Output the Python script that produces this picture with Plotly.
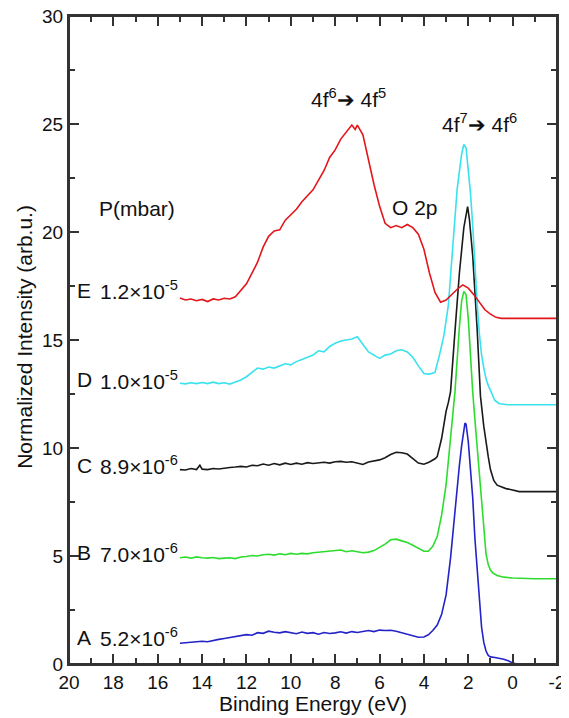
import plotly.graph_objects as go

# ---------------- data ----------------
flat_x = [15.0, 14.75, 14.5, 14.25, 14.0, 13.75, 13.5, 13.25, 13.0, 12.75, 12.5, 12.25,
          12.0, 11.75, 11.5, 11.25, 11.0, 10.75, 10.5, 10.25, 10.0, 9.75, 9.5, 9.25,
          9.0, 8.75, 8.5, 8.25, 8.0, 7.75, 7.5, 7.25, 7.0, 6.75, 6.5, 6.25, 6.0, 5.75,
          5.5, 5.25, 5.0, 4.75, 4.5]

# A (blue) 5.2e-6 mbar
a_x = flat_x + [4.25, 4.0, 3.8, 3.6, 3.4, 3.2, 3.0, 2.8, 2.6, 2.4, 2.3, 2.2, 2.15, 2.1, 2.0,
                1.9, 1.8, 1.7, 1.6, 1.5, 1.4, 1.3, 1.2, 1.1, 1.0, 0.8, 0.6, 0.4, 0.2, 0.0,
                -0.2, -0.5, -1.0, -1.5, -2.0]
a_y = [0.96, 0.98, 1.00, 1.02, 1.05, 1.03, 1.10, 1.14, 1.18, 1.22, 1.28, 1.30,
       1.36, 1.33, 1.45, 1.42, 1.52, 1.47, 1.44, 1.50, 1.46, 1.40, 1.48, 1.42,
       1.45, 1.38, 1.46, 1.41, 1.44, 1.49, 1.43, 1.50, 1.46, 1.52, 1.55, 1.50, 1.57, 1.55,
       1.56, 1.52, 1.45, 1.35, 1.28,
       1.24, 1.25, 1.35, 1.55, 1.80, 2.3, 3.2, 4.9, 7.2, 9.2, 10.1, 10.8, 11.15, 11.1, 10.3,
       9.0, 7.7, 5.8, 4.3, 2.9, 1.7, 1.0, 0.6, 0.4, 0.33, 0.30, 0.27, 0.22, 0.15, 0.05,
       0.0, 0.0, 0.0, 0.0, 0.0]

# B (green) 7.0e-6 mbar
b_x = flat_x + [4.25, 4.0, 3.8, 3.6, 3.4, 3.2, 3.0, 2.8, 2.6, 2.4, 2.3, 2.2, 2.1, 2.0,
                1.9, 1.8, 1.7, 1.6, 1.5, 1.4, 1.3, 1.2, 1.1, 1.0, 0.9, 0.7, 0.4, 0.0,
                -1.0, -2.0]
b_y = [4.92, 4.95, 4.90, 4.96, 4.92, 4.90, 4.93, 4.88, 4.90, 4.92, 4.88, 4.95,
       4.98, 5.02, 5.00, 5.06, 5.08, 5.04, 5.10, 5.06, 5.12, 5.08, 5.12, 5.10,
       5.15, 5.18, 5.20, 5.22, 5.25, 5.28, 5.20, 5.24, 5.20, 5.15, 5.18, 5.25, 5.40, 5.55,
       5.75, 5.78, 5.70, 5.62, 5.50,
       5.35, 5.22, 5.22, 5.45, 5.9, 6.9, 8.3, 10.5, 12.6, 15.6, 16.8, 17.25, 17.1, 16.0,
       14.2, 12.6, 11.3, 10.1, 8.9, 7.6, 6.3, 5.1, 4.6, 4.35, 4.22, 4.10, 4.02, 3.98,
       3.95, 3.95]

# C (black) 8.9e-6 mbar
c_x = [15.0, 14.75, 14.5, 14.25, 14.1, 14.0, 13.75, 13.5, 13.25, 13.0, 12.75, 12.5, 12.25,
       12.0, 11.75, 11.5, 11.25, 11.0, 10.75, 10.5, 10.25, 10.0, 9.75, 9.5, 9.25,
       9.0, 8.75, 8.5, 8.25, 8.0, 7.75, 7.5, 7.25, 7.0, 6.75, 6.5, 6.25, 6.0, 5.75,
       5.5, 5.25, 5.0, 4.75, 4.5, 4.25, 4.0, 3.75, 3.5, 3.4, 3.2, 3.0, 2.9, 2.8, 2.6,
       2.4, 2.2, 2.1, 2.03, 1.95, 1.8, 1.6, 1.45, 1.3, 1.2, 1.1, 1.0, 0.85, 0.7, 0.5,
       0.3, 0.1, -0.3, -1.0, -2.0]
c_y = [9.00, 8.98, 9.05, 9.00, 9.20, 9.02, 9.00, 9.05, 9.03, 9.08, 9.10, 9.12, 9.15,
       9.12, 9.20, 9.18, 9.26, 9.20, 9.28, 9.22, 9.30, 9.24, 9.30, 9.25, 9.32,
       9.28, 9.30, 9.34, 9.30, 9.36, 9.38, 9.34, 9.36, 9.30, 9.24, 9.35, 9.40, 9.45, 9.55,
       9.70, 9.80, 9.78, 9.72, 9.50, 9.30, 9.25, 9.35, 9.50, 9.60, 10.45, 11.7, 12.1, 12.6, 15.4,
       18.1, 20.2, 20.9, 21.17, 20.6, 18.9, 15.5, 12.4, 11.0, 10.2, 9.6, 9.0, 8.5, 8.28, 8.2,
       8.12, 8.08, 7.98, 7.98, 7.98]

# D (cyan) 1.0e-5 mbar
d_x = flat_x + [4.25, 4.0, 3.75, 3.5, 3.3, 3.1, 2.9, 2.7, 2.5, 2.3, 2.2, 2.1, 2.0, 1.9,
                1.8, 1.7, 1.6, 1.5, 1.4, 1.3, 1.2, 1.1, 1.0, 0.8, 0.6, 0.2, -1.0, -2.0]
d_y = [13.00, 12.97, 13.02, 12.98, 13.03, 12.98, 13.05, 12.98, 13.02, 12.96, 13.05, 13.15,
       13.30, 13.50, 13.70, 13.65, 13.75, 13.70, 13.80, 13.90, 13.85, 14.00, 14.10, 14.20,
       14.30, 14.50, 14.45, 14.70, 14.85, 14.95, 15.00, 15.05, 15.15, 14.80, 14.45, 14.30,
       14.15, 14.30, 14.35, 14.50, 14.55, 14.45, 14.20,
       13.80, 13.45, 13.42, 13.50, 14.3, 15.2, 16.6, 19.5, 22.0, 23.6, 24.05, 23.9, 23.0, 21.8,
       20.3, 18.4, 16.7, 15.3, 14.3, 13.7, 13.2, 12.9, 12.65, 12.2, 12.05, 12.0, 12.0, 12.0]

# E (red) 1.2e-5 mbar
e_x = [15.0, 14.75, 14.5, 14.25, 14.0, 13.75, 13.5, 13.25, 13.0, 12.75, 12.5, 12.25,
       12.0, 11.75, 11.5, 11.25, 11.0, 10.75, 10.5, 10.25, 10.0, 9.75, 9.5, 9.25,
       9.0, 8.75, 8.5, 8.25, 8.0, 7.75, 7.5, 7.25, 7.1, 7.0, 6.75, 6.5, 6.25, 6.0, 5.75,
       5.5, 5.25, 5.0, 4.75, 4.5, 4.25, 4.0, 3.75, 3.5, 3.25, 3.0, 2.75, 2.5, 2.25, 2.0,
       1.75, 1.5, 1.25, 1.0, 0.75, 0.5, 0.0, -1.0, -2.0]
e_y = [16.95, 16.85, 16.90, 16.82, 16.88, 16.78, 16.90, 16.85, 16.93, 16.90, 17.00, 17.30,
       17.60, 18.10, 18.60, 19.30, 19.80, 20.05, 20.10, 20.55, 20.80, 21.05, 21.40, 21.70,
       21.95, 22.40, 22.85, 23.45, 23.80, 24.30, 24.60, 24.95, 24.75, 24.95, 24.50, 23.30,
       22.20, 21.20, 20.40, 20.20, 20.30, 20.20, 20.35, 20.20, 19.90, 19.20, 18.10, 17.20,
       16.75, 16.85, 17.10, 17.35, 17.55, 17.40, 17.10, 16.75, 16.40, 16.20, 16.05, 16.00,
       16.00, 16.00, 16.00]

series_names = ["A", "B", "C", "D", "E"]
pressures = ["5.2×10<sup>-6</sup>", "7.0×10<sup>-6</sup>", "8.9×10<sup>-6</sup>",
             "1.0×10<sup>-5</sup>", "1.2×10<sup>-5</sup>"]
label_y = [1.25, 5.15, 9.2, 13.15, 17.3]
colors = ["#2323c8", "#2edc2e", "#1a1a1a", "#38e2ee", "#e3161c"]

x_ticks = [20, 18, 16, 14, 12, 10, 8, 6, 4, 2, 0, -2]
y_ticks = [0, 5, 10, 15, 20, 25, 30]
x_title = "Binding Energy (eV)"
y_title = "Normalized Intensity (arb.u.)"

# ---------------- figure ----------------
FONT = "Liberation Sans, Arial, Helvetica, sans-serif"
fig = go.Figure()
xs = [a_x, b_x, c_x, d_x, e_x]
ys = [a_y, b_y, c_y, d_y, e_y]
for name, xv, yv, col in zip(series_names, xs, ys, colors):
    fig.add_trace(go.Scatter(x=xv, y=yv, mode="lines", name=name,
                             line=dict(color=col, width=1.6), showlegend=False))

LAB = 21
for name, p, ly in zip(series_names, pressures, label_y):
    fig.add_annotation(x=19.75, y=ly, xref="x", yref="y", text=name, showarrow=False,
                       xanchor="left", yanchor="middle", font=dict(size=LAB, color="#111"))
    fig.add_annotation(x=18.7, y=ly, xref="x", yref="y", text=p, showarrow=False,
                       xanchor="left", yanchor="middle", font=dict(size=LAB, color="#111"))

fig.add_annotation(x=16.95, y=21.1, text="P(mbar)", showarrow=False,
                   xanchor="center", yanchor="middle", font=dict(size=LAB, color="#111"))
fig.add_annotation(x=7.4, y=26.2, text="4f<sup>6</sup>\u2794 4f<sup>5</sup>", showarrow=False,
                   xanchor="center", yanchor="middle", font=dict(size=LAB, color="#111"))
fig.add_annotation(x=1.5, y=25.05, text="4f<sup>7</sup>\u2794 4f<sup>6</sup>", showarrow=False,
                   xanchor="center", yanchor="middle", font=dict(size=LAB, color="#111"))
fig.add_annotation(x=4.4, y=21.15, text="O 2p", showarrow=False,
                   xanchor="center", yanchor="middle", font=dict(size=LAB, color="#111"))

# axis titles, placed precisely
fig.add_annotation(x=0.5, y=-0.061, xref="paper", yref="paper", text=x_title,
                   showarrow=False, xanchor="center", yanchor="middle",
                   font=dict(size=21, color="#111"))
fig.add_annotation(x=-0.09, y=0.505, xref="paper", yref="paper", text=y_title,
                   showarrow=False, xanchor="center", yanchor="middle", textangle=-90,
                   font=dict(size=21, color="#111"))

# plot frame
fig.add_shape(type="rect", xref="paper", yref="paper", x0=0, x1=1, y0=0, y1=1,
              line=dict(color="#333", width=2), layer="above")

axis_common = dict(showgrid=False, zeroline=False, showline=True, linecolor="#333",
                   linewidth=2, ticks="inside", ticklen=10, tickwidth=2, tickcolor="#333",
                   mirror="ticks", automargin=False, ticklabeloverflow="allow",
                   tickfont=dict(size=19, color="#111"))
fig.update_xaxes(range=[20, -2], tickvals=x_ticks, ticktext=[str(v) for v in x_ticks],
                 minor=dict(ticks="inside", ticklen=6, tickwidth=2, tickcolor="#333", dtick=1),
                 **axis_common)
fig.update_yaxes(range=[0, 30], tickvals=y_ticks, ticktext=[str(v) for v in y_ticks],
                 minor=dict(ticks="inside", ticklen=6, tickwidth=2, tickcolor="#333", dtick=2.5),
                 **axis_common)

# page body has an 8 px margin, so the figure is sized to fit the 569x718 window
fig.update_layout(width=561, height=710, autosize=False,
                  margin=dict(l=61, r=12, t=8, b=54, autoexpand=False),
                  plot_bgcolor="white", paper_bgcolor="white",
                  font=dict(family=FONT, color="#111"))

fig.write_html("out.html")
